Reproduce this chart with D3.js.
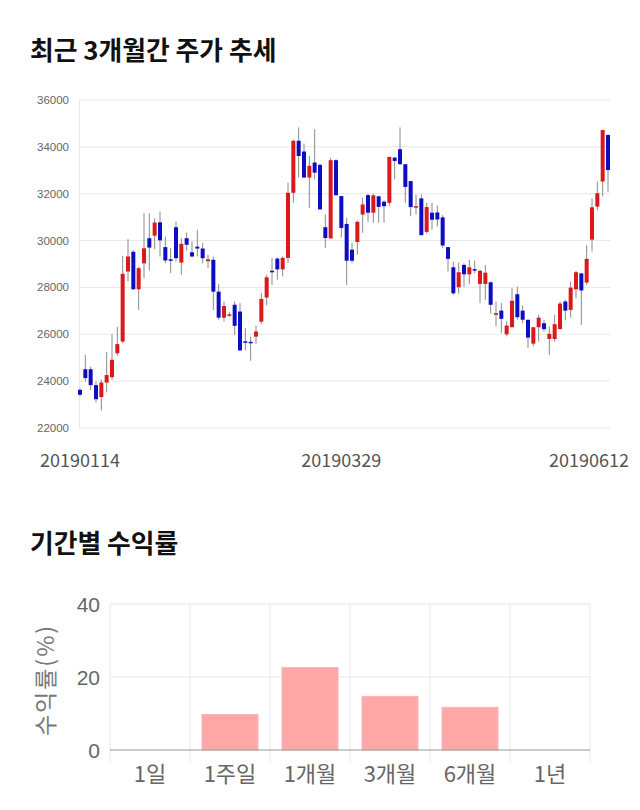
<!DOCTYPE html>
<html><head><meta charset="utf-8">
<script src="https://cdn.jsdelivr.net/npm/d3@7"></script>
<style>body{margin:0;background:#fff;} svg{display:block;font-family:'Noto Sans CJK KR','Noto Sans',sans-serif;}</style>
</head><body><div id="chart"></div>
<script>
// ---- candlestick data (KRW) ----
const opens  = [23630,24510,24510,23830,23320,23940,24170,25190,25690,28680,29520,27920,29030,30100,30210,30780,29720,29200,30570,29060,30100,29500,29740,29660,29120,29180,27820,26710,26830,27260,26970,25700,25680,25900,26540,27570,28710,29230,28770,29260,32040,34260,33800,32690,33330,33230,30570,30090,33430,31900,30710,29610,29940,31110,31940,31190,31890,31660,31610,33540,33900,33260,32540,31470,31800,30370,31190,31200,30990,29720,28860,28010,28960,28560,28780,28150,28150,28220,26830,27010,26000,26300,27710,27010,26620,25600,26300,26470,25800,25800,26220,27400,27040,27920,28600,28210,30040,31450,32520,34510];
const highs  = [23700,25120,24620,23990,24060,25240,26000,26320,29350,30060,29600,28890,31170,31170,30950,31240,30170,29670,30810,30100,30340,29960,30460,29890,29390,29320,28140,27400,26950,27400,27330,26260,25900,26370,27760,28540,29260,29290,29330,32470,34300,34830,34140,33610,34760,33290,31110,33540,33470,31900,30970,29900,30860,31830,32000,32000,31890,31710,33570,33570,34830,33260,32540,31970,31970,31610,31610,31500,31090,29720,29100,29060,29030,29180,29150,28750,28960,28250,27400,27330,26550,27970,28040,27230,26620,26300,26830,26620,26330,26830,27400,27470,28250,28710,28600,29810,31800,32520,34720,34510];
const lows   = [23350,23990,23630,23090,22750,23520,24060,25080,25620,28250,27900,27040,28390,28720,29630,29320,29030,28610,29100,28540,29570,29290,29320,29030,28820,27040,26620,26550,26750,25980,25310,25310,24870,25580,26430,27230,28110,28330,28470,29040,31610,32690,32690,31400,32610,31330,29690,30090,31900,30140,28110,29040,29400,30330,30800,30760,30760,30760,31470,32610,33230,31610,31040,31110,30230,30290,30470,30600,29670,28680,27680,27730,28030,28150,28610,27330,27470,26880,26340,26050,25910,26300,26620,26470,25410,25480,25690,26120,25120,25690,26220,26620,26710,27540,26400,28110,29530,31300,31880,32090];
const closes = [23420,24130,23830,23230,23940,24260,24910,25580,28580,29320,27920,28820,29670,29700,30770,30010,29150,29150,29250,29860,29820,29320,29660,29250,29200,27820,26710,27210,26850,26360,25310,25680,25660,26120,27510,28430,28660,28770,29260,32040,34260,33610,32690,33190,32900,31330,30110,33430,31940,30540,29140,29140,30800,31540,31190,31930,31440,31470,33570,33400,33260,32290,31430,31470,30230,31430,30890,30900,29790,29220,27750,28650,28560,28860,28720,28710,28630,27260,26900,26660,26370,27430,26730,26620,25860,26300,26710,26220,26020,26430,27310,27010,27990,28650,27870,29220,31420,32020,34720,33010];
const priceTicks = [22000,24000,26000,28000,30000,32000,34000,36000];
const dateTickIndex = [0,49,99];
const dateTickLabels = ['20190114','20190329','20190612'];

// ---- returns data (%) ----
const periods = ['1일','1주일','1개월','3개월','6개월','1년'];
const returns = [0, 9.7, 22.6, 14.7, 11.7, 0];
const returnTicks = [0,20,40];

const svg = d3.select('#chart').append('svg').attr('width',640).attr('height',810);

// titles
svg.append('text').attr('x',30).attr('y',60).text('최근 3개월간 주가 추세')
  .attr('font-size',25.8).attr('font-weight',700).attr('fill','#111');
svg.append('text').attr('x',30).attr('y',553).text('기간별 수익률')
  .attr('font-size',25.8).attr('font-weight',700).attr('fill','#111');

// ===== candlestick chart =====
const idx = d3.range(opens.length);
const x = d3.scalePoint().domain(idx).range([80,608]);
const y = d3.scaleLinear().domain([22000,36000]).range([428,100]);

const g1 = svg.append('g');
g1.selectAll('line.grid').data(priceTicks).join('line')
  .attr('x1',79).attr('x2',610).attr('y1',d=>y(d)).attr('y2',d=>y(d))
  .attr('stroke','#e8e8e8').attr('stroke-width',1);
g1.append('line').attr('x1',79.5).attr('x2',79.5).attr('y1',y(36000)).attr('y2',y(22000))
  .attr('stroke','#e8e8e8');
g1.selectAll('text.yl').data(priceTicks).join('text')
  .attr('x',69).attr('y',d=>y(d)+4).attr('text-anchor','end')
  .attr('font-family','Liberation Sans, Arial, sans-serif')
  .attr('font-size',11.5).attr('fill','#666').text(d=>d);

const up = i => closes[i] >= opens[i];
const red = '#d9191c', blue = '#0d0dc4';
g1.selectAll('line.wick').data(idx).join('line')
  .attr('x1',i=>x(i)).attr('x2',i=>x(i))
  .attr('y1',i=>y(highs[i])).attr('y2',i=>y(lows[i]))
  .attr('stroke','#8a8a8a').attr('stroke-width',1);
g1.selectAll('rect.body').data(idx).join('rect')
  .attr('x',i=>x(i)-2).attr('width',4)
  .attr('y',i=>y(Math.max(opens[i],closes[i])))
  .attr('height',i=>Math.max(1.5, Math.abs(y(opens[i])-y(closes[i]))))
  .attr('fill',i=>up(i)?red:blue);

const dl = g1.selectAll('text.xl').data(dateTickIndex).join('text')
  .attr('y',467).attr('text-anchor','middle')
  .attr('font-size',18).attr('fill','#555').text((d,k)=>dateTickLabels[k])
  .attr('x',d=>x(d));
dl.each(function(d){
  const w = this.getComputedTextLength();
  const cx = Math.min(x(d), 629 - w/2);
  d3.select(this).attr('x',cx);
});

// ===== returns bar chart =====
const bx = d3.scaleBand().domain(periods).range([110,590]).paddingInner(0.3).paddingOuter(0.15);
const by = d3.scaleLinear().domain([0,40]).range([750,604]);
const g2 = svg.append('g');
g2.selectAll('line.hg').data(returnTicks.filter(d=>d>0)).join('line')
  .attr('x1',110).attr('x2',590).attr('y1',d=>by(d)).attr('y2',d=>by(d))
  .attr('stroke','#e6e6e6');
const bounds = d3.range(periods.length+1);
g2.selectAll('line.vg').data(bounds).join('line')
  .attr('x1',k=>110+k*(480/periods.length)).attr('x2',k=>110+k*(480/periods.length))
  .attr('y1',by(40)).attr('y2',762)
  .attr('stroke','#e6e6e6');
g2.selectAll('rect.bar').data(periods).join('rect')
  .attr('x',p=>bx(p)).attr('width',bx.bandwidth())
  .attr('y',(p,k)=>by(returns[k])).attr('height',(p,k)=>by(0)-by(returns[k]))
  .attr('fill','#ffa6a6').attr('stroke','#f4b6b6').attr('stroke-width',1)
  .attr('display',(p,k)=>returns[k]>0?null:'none');
g2.append('line').attr('x1',110).attr('x2',590).attr('y1',by(0)).attr('y2',by(0))
  .attr('stroke','#999');
g2.selectAll('text.ry').data(returnTicks).join('text')
  .attr('x',100).attr('y',d=>by(d)+8).attr('text-anchor','end')
  .attr('font-family','Liberation Sans, Arial, sans-serif')
  .attr('font-size',21).attr('fill','#666').text(d=>d);
g2.selectAll('text.rx').data(periods).join('text')
  .attr('x',p=>bx(p)+bx.bandwidth()/2).attr('y',782).attr('text-anchor','middle')
  .attr('font-size',22).attr('fill','#666').text(p=>p);
svg.append('text').attr('transform','translate(54,680) rotate(-90)')
  .attr('text-anchor','middle').attr('font-size',23).attr('letter-spacing',2)
  .attr('fill','#777').text('수익률(%)');
</script></body></html>
